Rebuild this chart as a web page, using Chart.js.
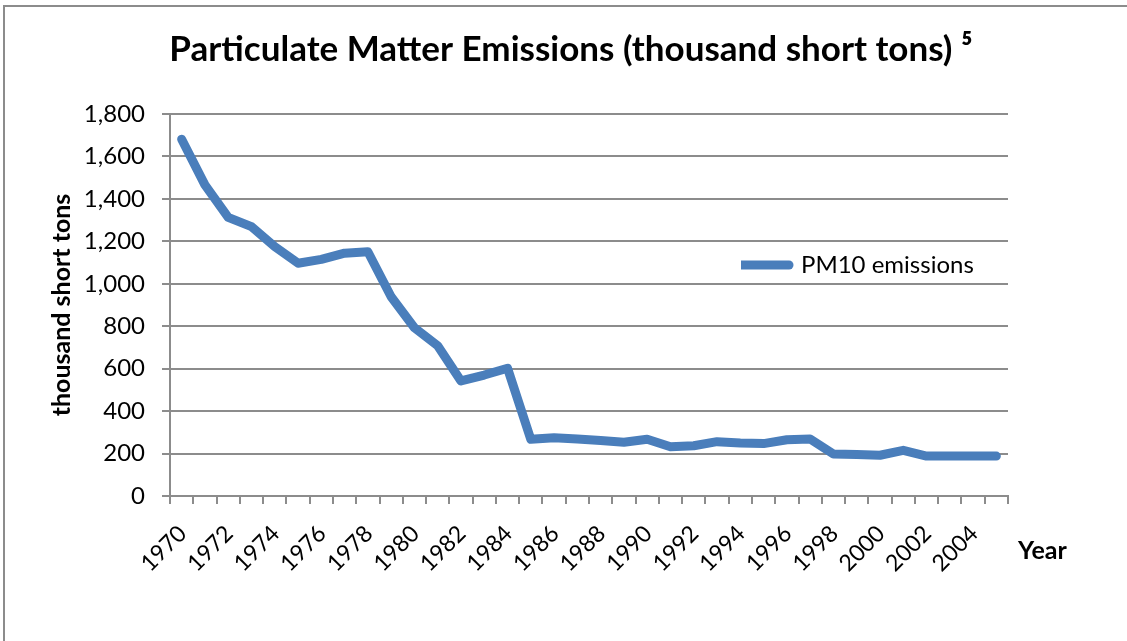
<!DOCTYPE html>
<html>
<head>
<meta charset="utf-8">
<script src="https://cdn.jsdelivr.net/npm/chart.js@4.4.1/dist/chart.umd.min.js"></script>
<style>
html,body{margin:0;padding:0;background:#fff;}
#wrap{position:relative;width:1127px;height:641px;overflow:hidden;}
#frame{position:absolute;left:3px;top:5px;right:-20px;bottom:-20px;border-top:2px solid #8c8c8c;border-left:2px solid #8c8c8c;pointer-events:none;}
canvas{display:block;}
</style>
</head>
<body>
<div id="wrap"><canvas id="c" width="1127" height="641"></canvas><div id="frame"></div></div>
<script>
// ---- data ----
const years = ['1970','1971','1972','1973','1974','1975','1976','1977','1978','1979',
               '1980','1981','1982','1983','1984','1985','1986','1987','1988','1989',
               '1990','1991','1992','1993','1994','1995','1996','1997','1998','1999',
               '2000','2001','2002','2003','2004','2005'];
const pm10 = [1681,1466,1313,1269,1175,1097,1115,1144,1151,939,
              793,708,542,570,602,267,275,269,261,253,
              267,232,237,256,250,247,265,269,198,195,
              192,215,188,188,188,188];
const yTicks = [0,200,400,600,800,1000,1200,1400,1600,1800];
const seriesName = 'PM10 emissions';
const chartTitle = 'Particulate Matter Emissions (thousand short tons) \u2075';
const yTitle = 'thousand short tons';
const xTitle = 'Year';

// ---- style ----
const FONT = 'Lato, "Open Sans", sans-serif';
const LINE = '#4a7ebb';
const GRID = '#8c8c8c';

const placeExtras = {
  id: 'placeExtras',
  afterLayout(chart) {
    const lg = chart.legend, ca = chart.chartArea, tb = chart.titleBlock;
    if (lg) {
      const w = lg.width, h = lg.height;
      lg.left = ca.left + 571; lg.top = ca.top + 139;
      lg.right = lg.left + w; lg.bottom = lg.top + h;
    }
    if (tb) { tb.left = 15; tb.right = chart.width; tb.width = tb.right - tb.left; }
  },
  afterDraw(chart) {
    const ctx = chart.ctx, ca = chart.chartArea;
    ctx.save();
    ctx.font = 'bold 25px ' + FONT;
    ctx.fillStyle = '#000';
    ctx.textAlign = 'left';
    ctx.textBaseline = 'middle';
    ctx.fillText(xTitle, ca.right + 10, ca.bottom + 55);
    ctx.restore();
  }
};

new Chart(document.getElementById('c'), {
  type: 'line',
  data: {
    labels: years,
    datasets: [{
      label: seriesName,
      data: pm10,
      borderColor: LINE,
      backgroundColor: LINE,
      borderWidth: 9,
      borderCapStyle: 'round',
      borderJoinStyle: 'round',
      pointRadius: 0,
      pointHoverRadius: 0,
      tension: 0,
      fill: false
    }]
  },
  options: {
    responsive: false,
    animation: false,
    devicePixelRatio: 1,
    layout: { padding: { left: 0, right: 119, top: 0, bottom: 0 } },
    plugins: {
      title: {
        display: true,
        text: chartTitle,
        color: '#000',
        font: { family: FONT, size: 35, weight: 'bold' },
        padding: { top: 29, bottom: 43 }
      },
      legend: {
        display: true,
        position: 'chartArea',
        align: 'start',
        labels: {
          color: '#000',
          font: { family: FONT, size: 24 },
          usePointStyle: true,
          pointStyleWidth: 48,
          padding: 0,
          generateLabels: () => [{
            text: seriesName, fillStyle: LINE, strokeStyle: LINE, lineWidth: 9,
            lineCap: 'round', pointStyle: 'line', hidden: false, datasetIndex: 0
          }]
        }
      },
      tooltip: { enabled: false }
    },
    scales: {
      x: {
        type: 'category',
        offset: true,
        afterFit(s) { s.height = 145; },
        grid: { offset: true, drawOnChartArea: false, drawTicks: true, tickLength: 8, color: GRID, lineWidth: 2 },
        border: { color: GRID, width: 2 },
        ticks: {
          autoSkip: false, maxRotation: 45, minRotation: 45, padding: 16, labelOffset: 1,
          color: '#000', font: { family: FONT, size: 23 },
          callback(v, i) { return i % 2 === 0 ? this.getLabelForValue(v) : ''; }
        }
      },
      y: {
        min: 0, max: 1800,
        afterFit(s) { s.width = 170; },
        afterBuildTicks(s) { s.ticks = yTicks.map(v => ({ value: v })); },
        grid: { color: GRID, lineWidth: 2, tickLength: 8 },
        border: { color: GRID, width: 2 },
        ticks: {
          padding: 17, color: '#000', font: { family: FONT, size: 24 },
          callback: v => v.toLocaleString('en-US')
        },
        title: {
          display: true, text: yTitle, color: '#000',
          font: { family: FONT, size: 25, weight: 'bold' },
          padding: { top: 47, bottom: 0 }
        }
      }
    }
  },
  plugins: [placeExtras]
});
</script>
</body>
</html>
